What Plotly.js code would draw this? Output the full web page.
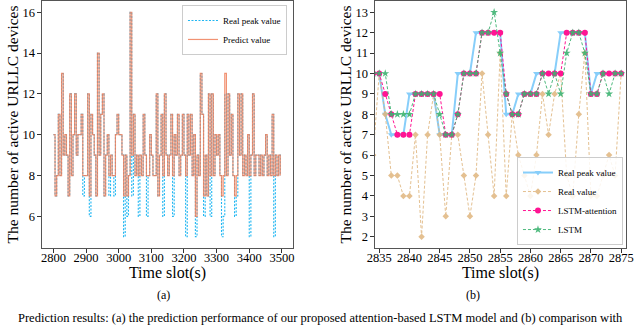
<!DOCTYPE html>
<html>
<head>
<meta charset="utf-8">
<script src="https://cdn.plot.ly/plotly-3.0.1.min.js"></script>
<style>
html, body {margin:0; padding:0; background:#fff;}
#myDiv {width:640px; height:325px;}
</style>
</head>
<body>
<div id="myDiv"></div>
<script>
// (a) time slots, one sample every 5 slots
const slotsA = []
for(let t = 2800; t < 3500; t += 5) { slotsA.push(t) }

// (a) real peak value
const peakA = [
	10,7,8,11,8,13,9,10,9,7, 12,8,10,12,9,10,10,11,7,8,
	8,12,6,11,10,9,7,14,9,11, 12,7,9,10,7,9,8,7,10,11,
	10,10,9,5,9,6,8,16,7,11, 8,9,6,9,8,11,9,6,8,10,
	9,8,8,12,7,9,11,6,12,9, 8,9,11,6,10,9,11,8,9,11,
	9,5,11,9,11,8,10,5,9,8, 13,11,6,9,7,12,6,12,8,10,
	9,10,8,5,6,12,8,12,9,11, 8,6,7,12,9,12,8,9,8,10,
	5,9,12,8,9,9,8,9,8,9, 10,8,9,8,11,5,9,8,9,8
]

// (a) predict value
const predA = [
	10,7,8,11,8,13,9,10,9,7, 12,8,10,12,9,10,10,11,8,8,
	8,12,7,11,10,9,7,14,9,11, 12,7,9,10,8,9,8,8,10,11,
	10,10,9,7,9,7,8,16,9,11, 8,9,8,9,8,11,9,8,8,10,
	9,8,8,12,7,9,11,8,12,9, 8,9,11,8,10,9,11,8,9,11,
	9,8,11,9,11,8,10,6,9,8, 13,11,7,9,7,12,8,12,8,10,
	9,10,8,7,8,13,8,12,9,11, 8,7,8,12,9,12,8,9,8,10,
	8,9,12,8,9,9,8,9,8,9, 10,8,9,8,11,8,9,8,9,8
]

// (b) time slots
const slotsB = [
	2834,2835,2836,2837,2838,2839,2840,2841,2842,2843,2844,2845,2846,2847,
	2848,2849,2850,2851,2852,2853,2854,2855,2856,2857,2858,2859,2860,2861,
	2862,2863,2864,2865,2866,2867,2868,2869,2870,2871,2872,2873,2874,2875
]
const peakB = [
	10,10,8,7,7,7,9,9,9,9,9,7,7,7,
	10,10,10,12,12,12,12,12,8,8,9,9,9,10,
	10,10,10,12,12,12,12,12,9,10,10,10,10,10
]
const realB = [
	6,10,8,5,5,4,4,7,2,7,9,7,3,7,
	7,5,3,5,10,7,4,11,4,8,6,5,4,6,
	9,7,9,10,5,4,8,11,4,4,5,6,5,10
]
const attnB = [
	10,10,9,8,7,7,7,9,9,9,9,9,7,7,
	8,10,10,10,12,12,12,12,9,8,8,9,9,9,
	10,10,10,10,12,12,12,12,9,9,10,10,10,10
]
const lstmB = [
	10,10,10,8,8,8,8,9,9,9,9,8,7,7,
	8,10,10,10,12,12,13,11,9,8,8,9,9,9,
	10,9,10,9,11,12,12,11,9,9,10,9,10,10
]

const serif = 'Liberation Serif, Times New Roman, serif'

const data = [
	{x:slotsA, y:peakA, name:'Real peak value', type:'scatter', mode:'lines', xaxis:'x', yaxis:'y', legend:'legend',
		line:{color:'#1fb6f2', width:1.1, dash:'2px,1.5px', shape:'hv'}},
	{x:slotsA, y:predA, name:'Predict value', type:'scatter', mode:'lines', xaxis:'x', yaxis:'y', legend:'legend',
		opacity:0.85, line:{color:'#ee7f5a', width:1.2, shape:'hv'}},

	{x:slotsB, y:peakB, name:'Real peak value', type:'scatter', mode:'lines+markers', xaxis:'x2', yaxis:'y2', legend:'legend2',
		line:{color:'#87cefa', width:2}, marker:{symbol:'triangle-down', size:6, color:'#87cefa'}},
	{x:slotsB, y:realB, name:'Real value', type:'scatter', mode:'lines+markers', xaxis:'x2', yaxis:'y2', legend:'legend2',
		opacity:0.85, line:{color:'#e0b67e', width:1, dash:'3px,2px'}, marker:{symbol:'diamond', size:5, color:'#e0b67e'}},
	{x:slotsB, y:attnB, name:'LSTM-attention', type:'scatter', mode:'lines+markers', xaxis:'x2', yaxis:'y2', legend:'legend2',
		line:{color:'#ff1493', width:1, dash:'3px,2px'}, marker:{symbol:'circle', size:6, color:'#ff1493'}},
	{x:slotsB, y:lstmB, name:'LSTM', type:'scatter', mode:'lines+markers', xaxis:'x2', yaxis:'y2', legend:'legend2',
		opacity:0.9, line:{color:'#3cb371', width:1, dash:'3px,2px'}, marker:{symbol:'star', size:6, color:'#3cb371'}}
]

const axisBase = {
	showgrid:false, zeroline:false, showline:true, mirror:true,
	linecolor:'#555', linewidth:1,
	ticks:'outside', ticklen:3.5, tickcolor:'#000', tickwidth:0.8,
	tickfont:{family:serif, size:12.5, color:'#000'}
}
const xTitle = {text:'Time slot(s)', font:{family:serif, size:16}, standoff:2}
const yTitle = {text:'The number of active URLLC devices', font:{family:serif, size:15.5}, standoff:0}

const layout = {
	width:640, height:325,
	margin:{l:0, r:0, t:1, b:77},
	paper_bgcolor:'#fff', plot_bgcolor:'#fff',
	font:{family:serif, color:'#000'},
	xaxis: Object.assign({}, axisBase, {domain:[0.0656, 0.4578], anchor:'y', range:[2765, 3534],
		tickvals:[2800,2900,3000,3100,3200,3300,3400,3500], ticklabelstandoff:-6, title:xTitle}),
	yaxis: Object.assign({}, axisBase, {anchor:'x', range:[4.45, 16.55], tickvals:[6,8,10,12,14,16], title:yTitle}),
	xaxis2: Object.assign({}, axisBase, {domain:[0.5859, 0.9781], anchor:'y2', range:[2834.3, 2875.8],
		tickvals:[2835,2840,2845,2850,2855,2860,2865,2870,2875], ticklabelstandoff:-6, title:xTitle}),
	yaxis2: Object.assign({}, axisBase, {anchor:'x2', range:[1.45, 13.55], tickvals:[2,3,4,5,6,7,8,9,10,11,12,13], title:yTitle}),
	legend:{x:0.4484, y:0.984, xanchor:'right', yanchor:'top', bgcolor:'rgba(255,255,255,0.85)',
		bordercolor:'#ccc', borderwidth:1, font:{family:serif, size:9}, itemwidth:30, tracegroupgap:0},
	legend2:{x:0.9734, y:0.012, xanchor:'right', yanchor:'bottom', bgcolor:'rgba(255,255,255,0.85)',
		bordercolor:'#ccc', borderwidth:1, font:{family:serif, size:9}, itemwidth:30, tracegroupgap:0},
	annotations:[
		{text:'(a)', xref:'paper', yref:'paper', x:155/640, y:-0.19, yanchor:'middle', showarrow:false, font:{family:serif, size:12}},
		{text:'(b)', xref:'paper', yref:'paper', x:482/640, y:-0.19, yanchor:'middle', showarrow:false, font:{family:serif, size:12}},
		{text:'Prediction results: (a) the prediction performance of our proposed attention-based LSTM model and (b) comparison with',
			xref:'paper', yref:'paper', x:0.5, y:-0.285, xanchor:'center', yanchor:'middle', showarrow:false, font:{family:serif, size:12.5}}
	],
	showlegend:true
}

const config = {displayModeBar:false, staticPlot:true}

Plotly.newPlot('myDiv', data, layout, config)
</script>
</body>
</html>
